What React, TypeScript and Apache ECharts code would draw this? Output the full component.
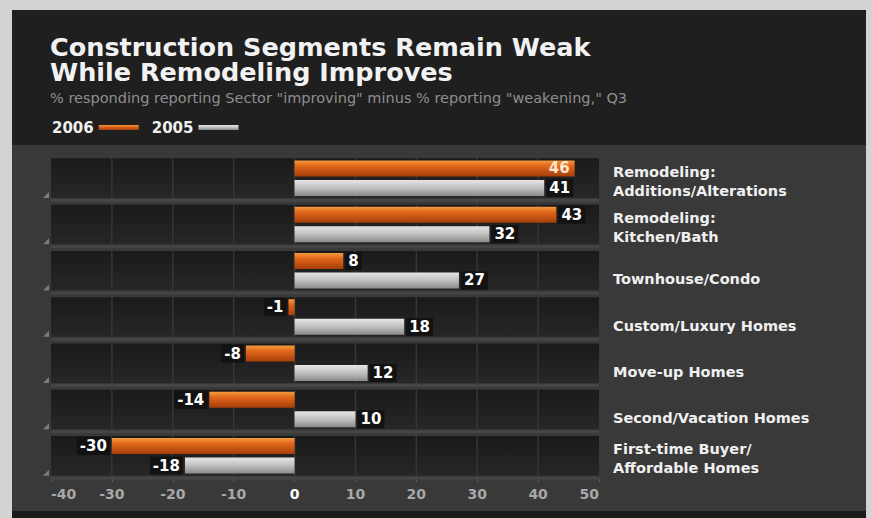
import React, { useEffect, useRef } from "react";
import * as echarts from "echarts";

const categories = [
  "Remodeling:\nAdditions/Alterations",
  "Remodeling:\nKitchen/Bath",
  "Townhouse/Condo",
  "Custom/Luxury Homes",
  "Move-up Homes",
  "Second/Vacation Homes",
  "First-time Buyer/\nAffordable Homes",
];
const values2006 = [46, 43, 8, -1, -8, -14, -30];
const values2005 = [41, 32, 27, 18, 12, 10, -18];
const xTicks = [-40, -30, -20, -10, 0, 10, 20, 30, 40, 50];
const seriesNames = ["2006", "2005"];
const titleLines = ["Construction Segments Remain Weak", "While Remodeling Improves"];
const subtitleText =
  '% responding reporting Sector "improving" minus % reporting "weakening," Q3';

const FONT = "'DejaVu Sans', 'Liberation Sans', sans-serif";

function barData(vals: number[], insideColor: string) {
  return vals.map((v) => {
    const inside = v > 45;
    return {
      value: v,
      label: {
        position: inside ? "insideRight" : v < 0 ? "left" : "right",
        backgroundColor: inside ? "transparent" : "#121212",
        color: inside ? insideColor : "#ffffff",
      },
    };
  });
}

export default function App() {
  const ref = useRef<HTMLDivElement>(null);

  useEffect(() => {
    if (!ref.current) return;
    const chart = echarts.init(ref.current, null, { renderer: "svg" });

    const orange = new echarts.graphic.LinearGradient(0, 0, 0, 1, [
      { offset: 0, color: "#f49a3e" },
      { offset: 0.35, color: "#e0661a" },
      { offset: 1, color: "#a63f0b" },
    ]);
    const gray = new echarts.graphic.LinearGradient(0, 0, 0, 1, [
      { offset: 0, color: "#e6e6e6" },
      { offset: 0.5, color: "#bfbfbf" },
      { offset: 1, color: "#8a8a8a" },
    ]);

    const labelCommon = {
      show: true,
      fontFamily: FONT,
      fontWeight: "bold" as const,
      fontSize: 15,
      padding: [2, 3, 1, 3],
      distance: 2,
    };

    const titleStyle = {
      color: "#f2f2f2",
      fontFamily: FONT,
      fontWeight: "bold",
      fontSize: 25.5,
      lineHeight: 24,
    };

    const option: any = {
      animation: false,
      backgroundColor: "#d3d3d3",
      graphic: [
        { type: "rect", z: -10, silent: true, shape: { x: 12, y: 10, width: 854, height: 135 }, style: { fill: "#1f1f1f" } },
        { type: "rect", z: -10, silent: true, shape: { x: 12, y: 145, width: 854, height: 366 }, style: { fill: "#393939" } },
        { type: "rect", z: -10, silent: true, shape: { x: 12, y: 511, width: 854, height: 7 }, style: { fill: "#1a1a1a" } },
      ],
      title: [
        {
          text: titleLines[0],
          left: 50,
          top: 35,
          padding: 0,
          textStyle: titleStyle,
        },
        {
          text: titleLines[1],
          left: 50,
          top: 60,
          padding: 0,
          textStyle: titleStyle,
        },
        {
          text: subtitleText,
          left: 50,
          top: 90,
          padding: 0,
          textStyle: {
            color: "#8e8e8e",
            fontFamily: FONT,
            fontWeight: "normal",
            fontSize: 14.5,
            lineHeight: 16,
          },
        },
      ],
      legend: {
        data: seriesNames,
        left: 52,
        top: 120,
        padding: 0,
        align: "right",
        icon: "rect",
        itemWidth: 40,
        itemHeight: 5,
        itemGap: 13,
        selectedMode: false,
        textStyle: {
          color: "#f0f0f0",
          fontFamily: FONT,
          fontWeight: "bold",
          fontSize: 15,
        },
      },
      grid: {
        left: 51,
        right: 273,
        top: 155,
        bottom: 39,
        containLabel: false,
        outerBoundsMode: "none",
      },
      xAxis: {
        type: "value",
        min: -40,
        max: 50,
        interval: 10,
        axisLine: { show: false },
        axisTick: { show: true, length: 3, lineStyle: { color: "#5a5a5a" } },
        splitLine: { show: false },
        axisLabel: {
          margin: 8,
          color: "#a8a8a8",
          fontFamily: FONT,
          fontWeight: "bold",
          fontSize: 14,
          alignMinLabel: "left",
          alignMaxLabel: "right",
          formatter: (v: number) => (v === 0 ? "{w|0}" : String(v)),
          rich: {
            w: { color: "#ffffff", fontFamily: FONT, fontWeight: "bold", fontSize: 14 },
          },
        },
      },
      yAxis: {
        type: "category",
        data: categories,
        inverse: true,
        position: "right",
        axisLine: { show: false },
        axisTick: { show: false },
        splitLine: { show: false },
        axisLabel: {
          margin: 14,
          align: "left",
          formatter: (v: string) => {
            const parts = v.split("\n");
            if (parts.length > 1) {
              return "{t|}\n" + parts.map((p) => "{l|" + p + "}").join("\n");
            }
            return "{u|}\n{l|" + v + "}";
          },
          rich: {
            t: { height: 6, lineHeight: 6 },
            u: { height: 17, lineHeight: 17 },
            l: {
              color: "#f0f0f0",
              fontFamily: FONT,
              fontWeight: "bold",
              fontSize: 14.5,
              lineHeight: 19,
            },
          },
        },
      },
      series: [
        {
          type: "custom",
          silent: true,
          z: 1,
          data: categories.map((_, i) => [xTicks[0], i]),
          encode: { x: 0, y: 1 },
          renderItem: (params: any, api: any) => {
            const idx = api.value(1);
            const cs = params.coordSys;
            const c = api.coord([xTicks[0], idx]);
            const band = api.size([0, 1])[1];
            const h = band * 0.855;
            const top = c[1] - h / 2;
            const bottom = top + h;
            const children: any[] = [
              {
                type: "rect",
                shape: { x: cs.x, y: bottom + 1, width: cs.width, height: 3 },
                style: { fill: "#454545" },
              },
              {
                type: "rect",
                shape: { x: cs.x, y: top, width: cs.width, height: h },
                style: {
                  fill: new echarts.graphic.LinearGradient(0, 0, 0, 1, [
                    { offset: 0, color: "#1a1a1a" },
                    { offset: 1, color: "#272727" },
                  ]),
                },
              },
              {
                type: "polygon",
                shape: {
                  points: [
                    [cs.x - 8, bottom],
                    [cs.x - 2, bottom - 6],
                    [cs.x - 2, bottom],
                  ],
                },
                style: { fill: "#7c7c7c" },
              },
            ];
            xTicks.slice(1, -1).forEach((t) => {
              const x = api.coord([t, idx])[0];
              children.push({
                type: "line",
                shape: { x1: x, y1: top, x2: x, y2: bottom },
                style: { stroke: "#363636", lineWidth: 1.5 },
              });
            });
            return { type: "group", children };
          },
        },
        {
          name: seriesNames[0],
          type: "bar",
          z: 3,
          barWidth: 16,
          barGap: "22%",
          itemStyle: { color: orange },
          label: labelCommon,
          data: barData(values2006, "#ffe6cc"),
        },
        {
          name: seriesNames[1],
          type: "bar",
          z: 3,
          barWidth: 16,
          barGap: "22%",
          itemStyle: { color: gray },
          label: labelCommon,
          data: barData(values2005, "#222222"),
        },
      ],
    };

    chart.setOption(option);
    return () => chart.dispose();
  }, []);

  return (
    <div
      ref={ref}
      style={{ position: "fixed", left: 0, top: 0, width: 872, height: 518 }}
    />
  );
}
